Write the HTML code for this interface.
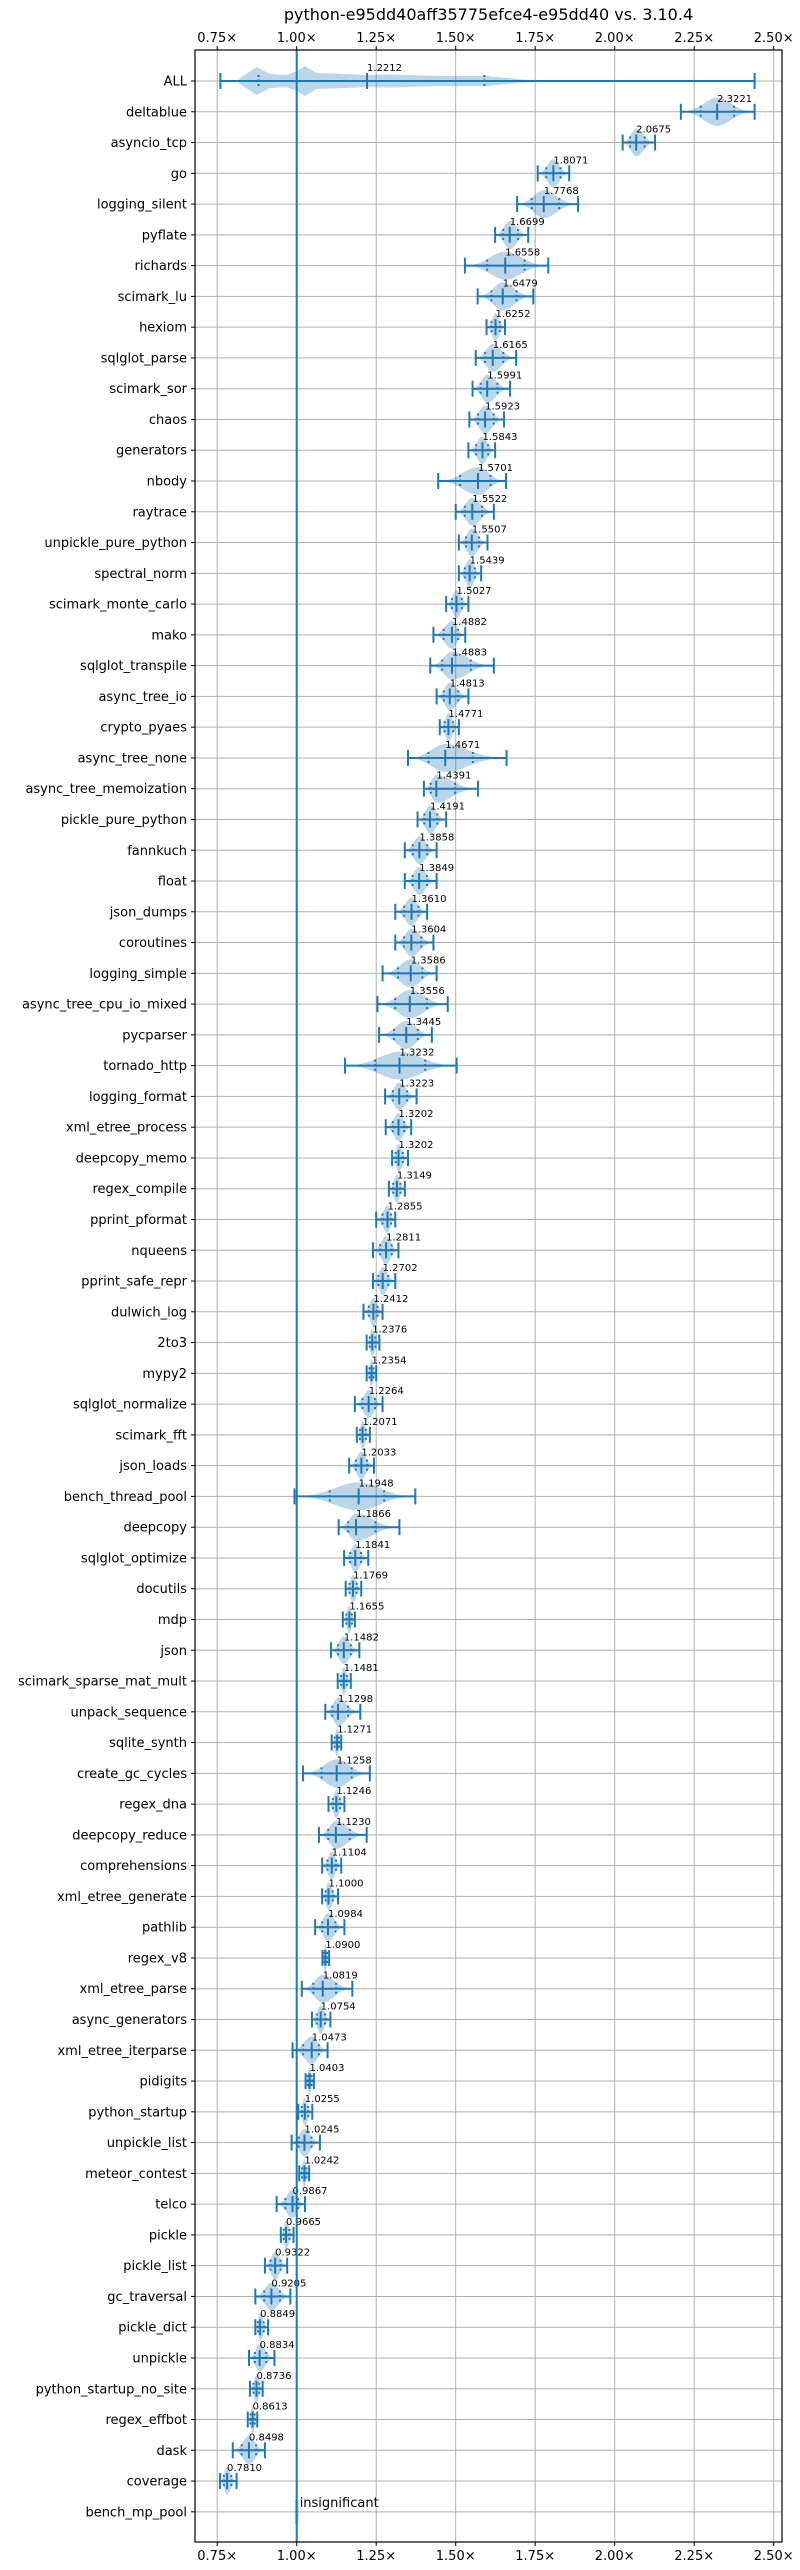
<!DOCTYPE html>
<html><head><meta charset="utf-8"><style>
html,body{margin:0;padding:0;background:#fff;}
svg{display:block;font-family:"DejaVu Sans","Liberation Sans",sans-serif;}
</style></head><body>
<svg id="chart" width="800" height="2570" xmlns="http://www.w3.org/2000/svg"></svg>
<script>
const benchmarks = ["ALL","deltablue","asyncio_tcp","go","logging_silent","pyflate","richards","scimark_lu","hexiom","sqlglot_parse","scimark_sor","chaos","generators","nbody","raytrace","unpickle_pure_python","spectral_norm","scimark_monte_carlo","mako","sqlglot_transpile","async_tree_io","crypto_pyaes","async_tree_none","async_tree_memoization","pickle_pure_python","fannkuch","float","json_dumps","coroutines","logging_simple","async_tree_cpu_io_mixed","pycparser","tornado_http","logging_format","xml_etree_process","deepcopy_memo","regex_compile","pprint_pformat","nqueens","pprint_safe_repr","dulwich_log","2to3","mypy2","sqlglot_normalize","scimark_fft","json_loads","bench_thread_pool","deepcopy","sqlglot_optimize","docutils","mdp","json","scimark_sparse_mat_mult","unpack_sequence","sqlite_synth","create_gc_cycles","regex_dna","deepcopy_reduce","comprehensions","xml_etree_generate","pathlib","regex_v8","xml_etree_parse","async_generators","xml_etree_iterparse","pidigits","python_startup","unpickle_list","meteor_contest","telco","pickle","pickle_list","gc_traversal","pickle_dict","unpickle","python_startup_no_site","regex_effbot","dask","coverage","bench_mp_pool"];
const medians = [1.2212,2.3221,2.0675,1.8071,1.7768,1.6699,1.6558,1.6479,1.6252,1.6165,1.5991,1.5923,1.5843,1.5701,1.5522,1.5507,1.5439,1.5027,1.4882,1.4883,1.4813,1.4771,1.4671,1.4391,1.4191,1.3858,1.3849,1.3610,1.3604,1.3586,1.3556,1.3445,1.3232,1.3223,1.3202,1.3202,1.3149,1.2855,1.2811,1.2702,1.2412,1.2376,1.2354,1.2264,1.2071,1.2033,1.1948,1.1866,1.1841,1.1769,1.1655,1.1482,1.1481,1.1298,1.1271,1.1258,1.1246,1.1230,1.1104,1.1000,1.0984,1.0900,1.0819,1.0754,1.0473,1.0403,1.0255,1.0245,1.0242,0.9867,0.9665,0.9322,0.9205,0.8849,0.8834,0.8736,0.8613,0.8498,0.7810,1.0];
const mins = [0.76,2.208,2.025,1.758,1.693,1.624,1.529,1.569,1.597,1.563,1.553,1.543,1.540,1.445,1.50,1.51,1.51,1.47,1.43,1.42,1.44,1.45,1.35,1.40,1.38,1.34,1.34,1.31,1.31,1.27,1.254,1.259,1.152,1.278,1.28,1.30,1.29,1.25,1.24,1.24,1.21,1.22,1.22,1.183,1.189,1.165,0.993,1.132,1.149,1.154,1.145,1.108,1.129,1.09,1.11,1.02,1.10,1.07,1.08,1.08,1.058,1.081,1.016,1.048,0.987,1.028,1.005,0.984,1.008,0.937,0.95,0.90,0.87,0.87,0.85,0.853,0.846,0.799,0.759,1.0];
const maxs = [2.44,2.44,2.127,1.857,1.885,1.728,1.791,1.744,1.655,1.690,1.671,1.652,1.624,1.658,1.62,1.60,1.58,1.54,1.53,1.62,1.54,1.51,1.66,1.57,1.47,1.44,1.44,1.41,1.43,1.44,1.475,1.425,1.503,1.377,1.36,1.35,1.34,1.31,1.32,1.31,1.27,1.26,1.25,1.270,1.230,1.243,1.373,1.323,1.225,1.203,1.183,1.197,1.170,1.20,1.14,1.23,1.15,1.22,1.14,1.13,1.150,1.102,1.175,1.106,1.097,1.054,1.049,1.073,1.039,1.026,0.99,0.97,0.98,0.91,0.93,0.893,0.876,0.900,0.811,1.0];
const allQ1 = 0.88;
const allQ3 = 1.59;
const xTicks = [0.75,1.00,1.25,1.50,1.75,2.00,2.25,2.50];
const allShapeV = [0.76,0.811,0.832,0.874,0.916,0.969,1.0,1.026,1.063,1.115,1.22,1.293,1.45,1.597,1.66,1.71,1.82,2.0,2.44];
const allShapeH = [0,0,5,14,7,6,10,15,8,7.5,6,6.5,5,5,3,1.5,0.5,0,0];

const svg = document.getElementById('chart');
const NS = 'http://www.w3.org/2000/svg';
const L=195, R=782, T=50, B=2542;
const X = v => 296.7 + (v-1)*318;
const Y = i => 81 + i*30.77;
const BLUE='#1f77b4';
function mk(tag, attrs, parent){const e=document.createElementNS(NS,tag);for(const k in attrs)e.setAttribute(k,attrs[k]);(parent||svg).appendChild(e);return e;}

const grid = mk('g',{});


xTicks.forEach(t=>{mk('line',{x1:X(t),x2:X(t),y1:T,y2:B,stroke:'#b0b0b0','stroke-width':1},grid);});
benchmarks.forEach((b,i)=>{mk('line',{x1:L,x2:R,y1:Y(i),y2:Y(i),stroke:'#b0b0b0','stroke-width':1},grid);});

const marks = mk('g',{});


benchmarks.forEach((b,i)=>{
  const y=Y(i), m=medians[i], lo=mins[i], hi=maxs[i];
  let d;
  if(i===0){
    const top=allShapeV.map((v,k)=>[X(v),y-allShapeH[k]]);
    const bot=allShapeV.map((v,k)=>[X(v),y+allShapeH[k]]).reverse();
    d='M'+top.map(p=>p.join(',')).join(' L')+' L'+bot.map(p=>p.join(',')).join(' L')+'Z';
  } else if(i===benchmarks.length-1){
    d=`M${X(m)-2},${y-12} L${X(m)+2},${y-12} L${X(m)+2},${y+12} L${X(m)-2},${y+12}Z`;
  } else {
    const x0=X(lo), x1=X(hi), xm=X(m), h=14;
    d=`M${x0},${y} C${(x0+xm)/2},${y} ${xm-(xm-x0)*0.3},${y-h} ${xm},${y-h} C${xm+(x1-xm)*0.3},${y-h} ${(xm+x1)/2},${y} ${x1},${y} C${(xm+x1)/2},${y} ${xm+(x1-xm)*0.3},${y+h} ${xm},${y+h} C${xm-(xm-x0)*0.3},${y+h} ${(x0+xm)/2},${y} ${x0},${y}Z`;
  }
  const v=mk('path',{d:d,fill:BLUE,'fill-opacity':0.3,stroke:'none'},marks);
  
  
  if(i===benchmarks.length-1) return;
  const g=mk('g',{stroke:BLUE,'stroke-width':2},marks);
  
  
  mk('line',{x1:X(lo),x2:X(hi),y1:y,y2:y},g);
  mk('line',{x1:X(lo),x2:X(lo),y1:y-8,y2:y+8},g);
  mk('line',{x1:X(hi),x2:X(hi),y1:y-8,y2:y+8},g);
  mk('line',{x1:X(m),x2:X(m),y1:y-8,y2:y+8},g);
  const q1 = i===0 ? allQ1 : m-0.45*(m-lo);
  const q3 = i===0 ? allQ3 : m+0.45*(hi-m);
  [q1,q3].forEach(q=>mk('line',{x1:X(q),x2:X(q),y1:y-6,y2:y+6,'stroke-dasharray':'2,2.5'},g));
  const t=mk('text',{x:X(m),y:y-10,'font-size':10,fill:'#000'},marks);
  t.textContent=m.toFixed(4);
  
  
});
const ins=mk('text',{x:X(1)+3,y:Y(benchmarks.length-1)-5,'font-size':13,fill:'#000'});
ins.textContent='insignificant';



const ref=mk('line',{x1:X(1),x2:X(1),y1:T,y2:B,stroke:BLUE,'stroke-width':2});



const frame=mk('rect',{x:L,y:T,width:R-L,height:B-T,fill:'none',stroke:'#000','stroke-width':1.2});



const ylab=mk('g',{'font-size':13,fill:'#000','text-anchor':'end'});


benchmarks.forEach((b,i)=>{
  mk('line',{x1:L-4,x2:L,y1:Y(i),y2:Y(i),stroke:'#000','stroke-width':1},ylab);
  const t=mk('text',{x:L-8,y:Y(i)+4.5},ylab);t.textContent=b;
});
['top','bottom'].forEach(side=>{
  const g=mk('g',{'font-size':13,fill:'#000','text-anchor':'middle'});
  
  
  xTicks.forEach(t=>{
    if(side==='top'){mk('line',{x1:X(t),x2:X(t),y1:T-4,y2:T,stroke:'#000'},g);const s=mk('text',{x:X(t),y:T-8},g);s.textContent=t.toFixed(2)+'×';}
    else{mk('line',{x1:X(t),x2:X(t),y1:B,y2:B+4,stroke:'#000'},g);const s=mk('text',{x:X(t),y:B+18},g);s.textContent=t.toFixed(2)+'×';}
  });
});
const title=mk('text',{x:(L+R)/2,y:20,'font-size':16,'text-anchor':'middle',fill:'#000'});
title.textContent='python-e95dd40aff35775efce4-e95dd40 vs. 3.10.4';


</script>
</body></html>
